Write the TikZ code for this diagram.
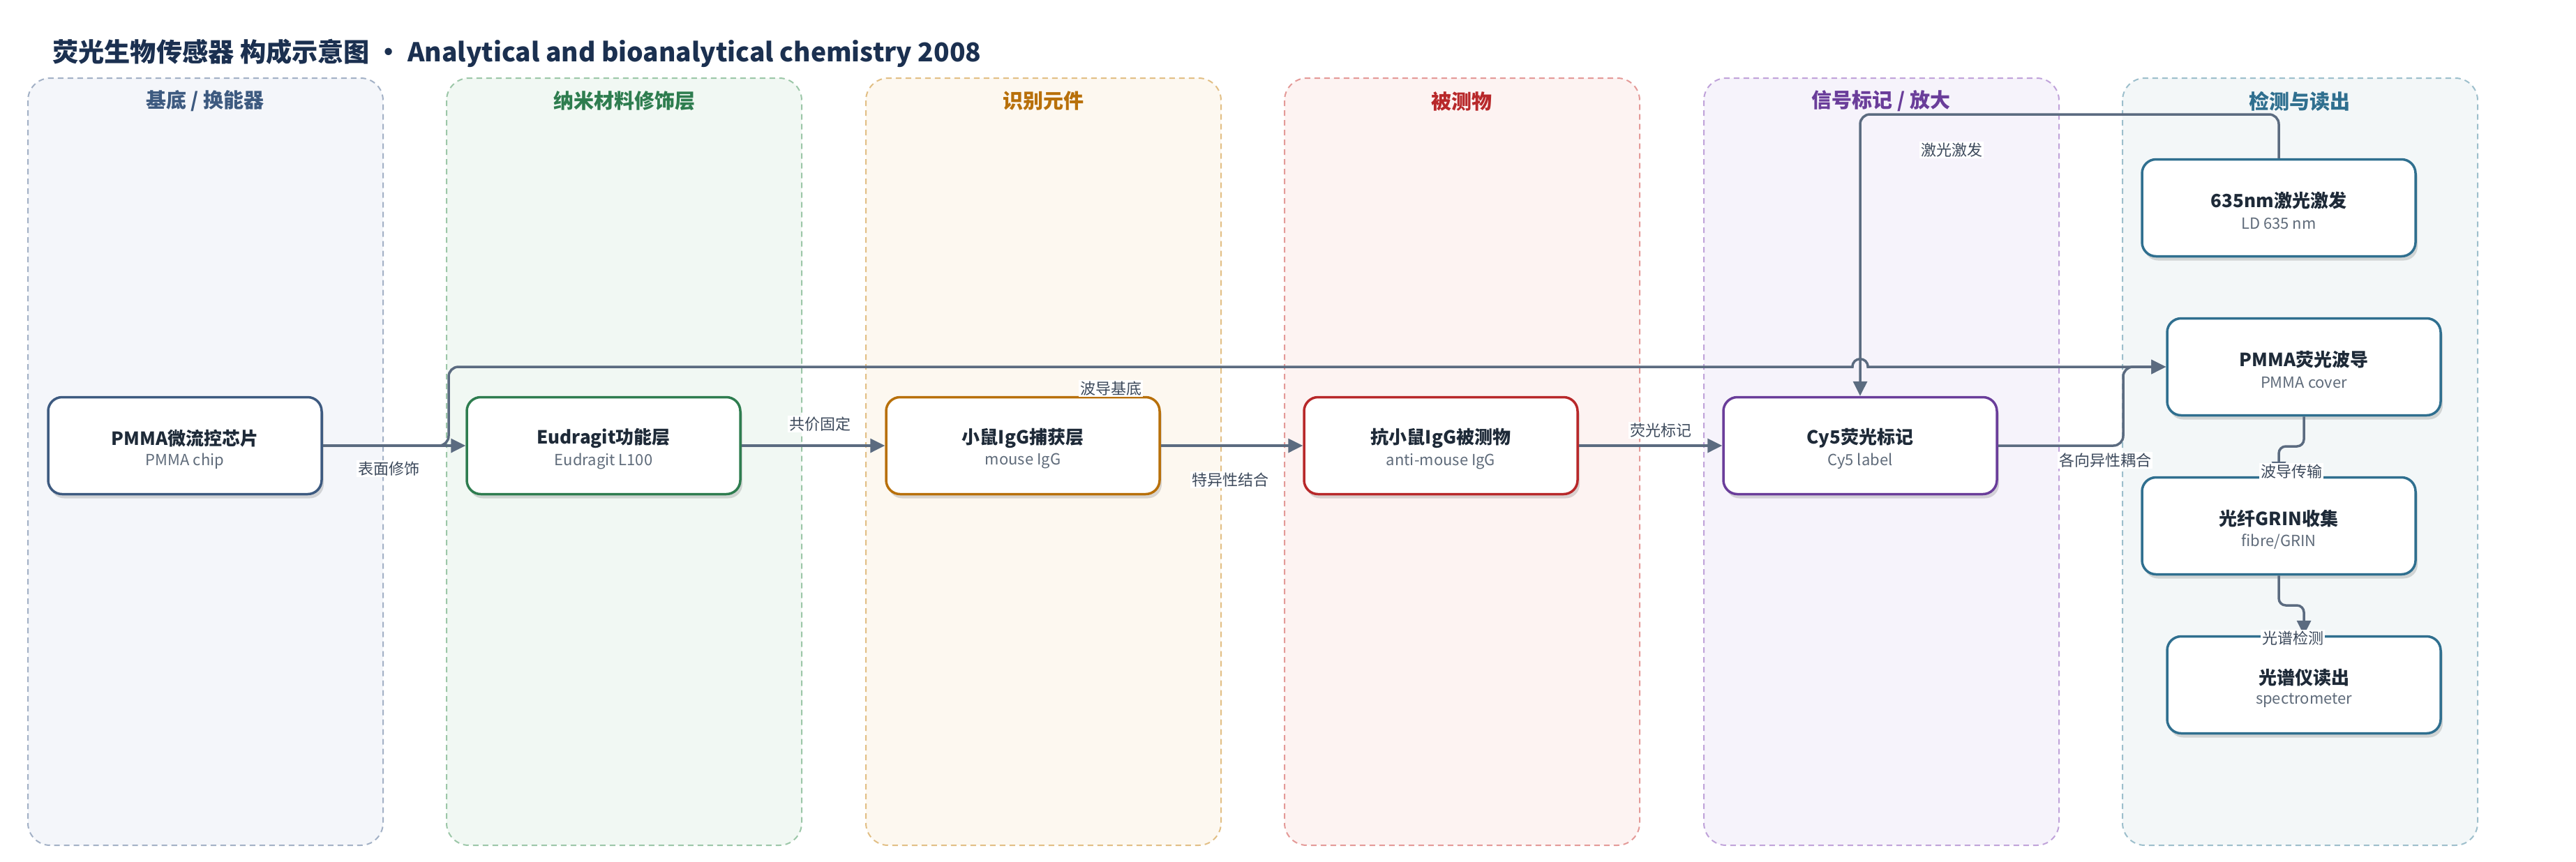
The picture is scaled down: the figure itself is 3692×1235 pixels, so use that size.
\documentclass[tikz,border=0pt]{standalone}
\usepackage{fontspec}
\setmainfont{Noto Sans CJK SC}
\usetikzlibrary{shadows,arrows.meta}
\definecolor{navy}{HTML}{1B3050}
\definecolor{lfa}{HTML}{F4F6FA}\definecolor{lda}{HTML}{A3B1C6}\definecolor{lta}{HTML}{3D5A80}
\definecolor{lfb}{HTML}{F1F8F3}\definecolor{ldb}{HTML}{9CC7A8}\definecolor{ltb}{HTML}{2E7D4F}
\definecolor{lfc}{HTML}{FDF8F0}\definecolor{ldc}{HTML}{E2BF85}\definecolor{ltc}{HTML}{B8700A}
\definecolor{lfd}{HTML}{FDF3F2}\definecolor{ldd}{HTML}{E49A98}\definecolor{ltd}{HTML}{B8282A}
\definecolor{lfe}{HTML}{F6F3FB}\definecolor{lde}{HTML}{C0A3DA}\definecolor{lte}{HTML}{6A3D9A}
\definecolor{lff}{HTML}{F3F7F8}\definecolor{ldf}{HTML}{9DBFCC}\definecolor{ltf}{HTML}{2F6F8F}
\definecolor{bxa}{HTML}{3D5A80}\definecolor{bxb}{HTML}{2E7D4F}\definecolor{bxc}{HTML}{B8700A}
\definecolor{bxd}{HTML}{B8282A}\definecolor{bxe}{HTML}{6A3D9A}\definecolor{bxf}{HTML}{2F6F8F}
\definecolor{ttc}{HTML}{1E2A38}\definecolor{sbc}{HTML}{5F6B7A}
\definecolor{cnc}{HTML}{5B6B80}\definecolor{lbc}{HTML}{3D4A5C}
\tikzset{
  lane/.style={line width=2pt, dash pattern=on 8pt off 6pt, rounded corners=32pt},
  lanetitle/.style={font=\fontsize{29}{34}\selectfont\bfseries},
  box/.style={draw, line width=3.5pt, rounded corners=20pt, fill=white,
    minimum width=392pt, minimum height=139pt,
    drop shadow={shadow xshift=3pt, shadow yshift=-6pt, fill=black, opacity=0.14}},
  ntitle/.style={font=\fontsize{26}{30}\selectfont\bfseries, text=ttc, inner sep=0pt},
  nsub/.style={font=\fontsize{22}{26}\selectfont, text=sbc, inner sep=0pt},
  conn/.style={draw=cnc, line width=3.5pt, rounded corners=14pt, -{Triangle[length=21pt,width=20pt]}},
  elabel/.style={fill=white, inner sep=2pt, font=\fontsize{22}{26}\selectfont, text=lbc},
}
\begin{document}
\begin{tikzpicture}[x=1pt,y=-1pt]
\useasboundingbox (0,0) rectangle (3692,1235);
\fill[white] (0,0) rectangle (3692,1235);
% lanes
\path[lane, fill=lfa, draw=lda] (40,112) rectangle (549,1212);
\path[lane, fill=lfb, draw=ldb] (640,112) rectangle (1149,1212);
\path[lane, fill=lfc, draw=ldc] (1241,112) rectangle (1750,1212);
\path[lane, fill=lfd, draw=ldd] (1841,112) rectangle (2350,1212);
\path[lane, fill=lfe, draw=lde] (2442,112) rectangle (2951,1212);
\path[lane, fill=lff, draw=ldf] (3042,112) rectangle (3551,1212);
\node[lanetitle, text=lta] (t1) at (294,145) {基底 / 换能器};
\node[lanetitle, text=ltb] (t2) at (895,145) {纳米材料修饰层};
\node[lanetitle, text=ltc] (t3) at (1495,145) {识别元件};
\node[lanetitle, text=ltd] (t4) at (2095,145) {被测物};
\node[lanetitle, text=lte] (t5) at (2696,145) {信号标记 / 放大};
\node[lanetitle, text=ltf] (t6) at (3296,145) {检测与读出};
% title
\node[anchor=west, font=\fontsize{37.2}{44}\selectfont\bfseries, text=navy, inner sep=0pt] (title) at (75,76)
  {荧光生物传感器 构成示意图 · Analytical and bioanalytical chemistry 2008};
% nodes (boxes)
\node[box, draw=bxa] (n1) at (265,639) {};
\node[box, draw=bxb] (n2) at (865,639) {};
\node[box, draw=bxc] (n3) at (1466,639) {};
\node[box, draw=bxd] (n4) at (2065,639) {};
\node[box, draw=bxe] (n5) at (2666,639) {};
\node[box, draw=bxf] (laser) at (3266,298) {};
\node[box, draw=bxf] (pmma) at (3302,526) {};
\node[box, draw=bxf] (grin) at (3266,754) {};
\node[box, draw=bxf] (spec) at (3302,982) {};
% connectors
\draw[conn] (n1.east) -- (n2.west);
\draw[conn] (n2.east) -- (n3.west);
\draw[conn] (n3.east) -- (n4.west);
\draw[conn] (n4.east) -- (n5.west);
\draw[conn] (laser.north) -- (3266,164) -- (2666,164) -- (n5.north);
\draw[conn] (n1.east) -- (643,639) -- (643,526) -- (2600,526) [sharp corners] -- (2655,526)
   .. controls (2655,511) and (2677,511) .. (2677,526) -- (pmma.west);
\draw[conn] (n5.east) -- (3043,639) -- (3043,526) -- (pmma.west);
\draw[conn, rounded corners=10pt] (pmma.south) -- (3302,640) -- (3266,640) -- (grin.north);
\draw[conn, rounded corners=10pt] (grin.south) -- (3266,868) -- (3302,868) -- (spec.north);
% node texts
\node[ntitle] (n1a) at ([yshift=10.5pt]n1.center) {PMMA微流控芯片};
\node[nsub] (n1b) at ([yshift=-22.5pt]n1.center) {PMMA chip};
\node[ntitle] (n2a) at ([yshift=10.5pt]n2.center) {Eudragit功能层};
\node[nsub] (n2b) at ([yshift=-22.5pt]n2.center) {Eudragit L100};
\node[ntitle] (n3a) at ([yshift=10.5pt]n3.center) {小鼠IgG捕获层};
\node[nsub] (n3b) at ([yshift=-22.5pt]n3.center) {mouse IgG};
\node[ntitle] (n4a) at ([yshift=10.5pt]n4.center) {抗小鼠IgG被测物};
\node[nsub] (n4b) at ([yshift=-22.5pt]n4.center) {anti-mouse IgG};
\node[ntitle] (n5a) at ([yshift=10.5pt]n5.center) {Cy5荧光标记};
\node[nsub] (n5b) at ([yshift=-22.5pt]n5.center) {Cy5 label};
\node[ntitle] (la) at ([yshift=10.5pt]laser.center) {635nm激光激发};
\node[nsub] (lb) at ([yshift=-22.5pt]laser.center) {LD 635 nm};
\node[ntitle] (pa) at ([yshift=10.5pt]pmma.center) {PMMA荧光波导};
\node[nsub] (pb) at ([yshift=-22.5pt]pmma.center) {PMMA cover};
\node[ntitle] (ga) at ([yshift=10.5pt]grin.center) {光纤GRIN收集};
\node[nsub] (gb) at ([yshift=-22.5pt]grin.center) {fibre/GRIN};
\node[ntitle] (sa) at ([yshift=10.5pt]spec.center) {光谱仪读出};
\node[nsub] (sb) at ([yshift=-22.5pt]spec.center) {spectrometer};
% edge labels
\node[elabel] (e1) at (557,672) {表面修饰};
\node[elabel] (e2) at (1175,608) {共价固定};
\node[elabel] (e3) at (1763,688) {特异性结合};
\node[elabel] (e4) at (2380,617) {荧光标记};
\node[elabel] (e5) at (1592,557) {波导基底};
\node[elabel] (e6) at (2797,215) {激光激发};
\node[elabel] (e7) at (3017,660) {各向异性耦合};
\node[elabel] (e8) at (3284,676) {波导传输};
\node[elabel] (e9) at (3286,915) {光谱检测};
\end{tikzpicture}
\end{document}
